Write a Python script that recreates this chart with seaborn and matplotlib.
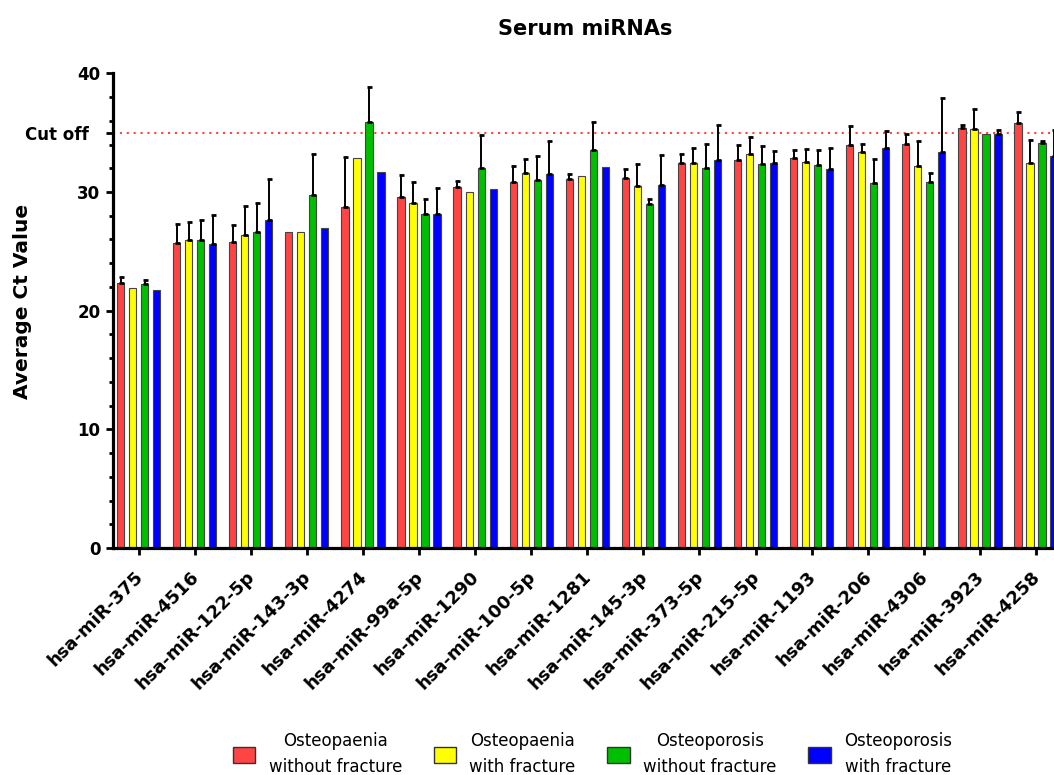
import numpy as np
import pandas as pd
import matplotlib
matplotlib.use('Agg')
import matplotlib.pyplot as plt
import matplotlib.transforms as mtransforms
import seaborn as sns
from matplotlib.patches import Patch
from matplotlib.ticker import MultipleLocator

mirnas = ['hsa-miR-375', 'hsa-miR-4516', 'hsa-miR-122-5p', 'hsa-miR-143-3p',
          'hsa-miR-4274', 'hsa-miR-99a-5p', 'hsa-miR-1290', 'hsa-miR-100-5p',
          'hsa-miR-1281', 'hsa-miR-145-3p', 'hsa-miR-373-5p', 'hsa-miR-215-5p',
          'hsa-miR-1193', 'hsa-miR-206', 'hsa-miR-4306', 'hsa-miR-3923',
          'hsa-miR-4258']
groups = ['Osteopaenia\nwithout fracture', 'Osteopaenia\nwith fracture',
          'Osteoporosis\nwithout fracture', 'Osteoporosis\nwith fracture']
colors = ['#FF4444', '#FFFF00', '#00BF00', '#0000FF']

# mean Ct values
penia_nofx = [22.29, 25.69, 25.77, 26.67, 28.70, 29.57, 30.38, 30.86, 31.08,
              31.17, 32.46, 32.69, 32.83, 33.95, 34.06, 35.36, 35.78]
penia_fx = [21.87, 25.97, 26.39, 26.59, 32.85, 29.06, 30.04, 31.56, 31.37,
            30.47, 32.46, 33.19, 32.55, 33.33, 32.15, 35.27, 32.47]
porosis_nofx = [22.26, 25.97, 26.59, 29.76, 35.86, 28.16, 31.98, 30.97, 33.50,
                28.98, 31.98, 32.35, 32.24, 30.75, 30.83, 34.87, 34.17]
porosis_fx = [21.70, 25.60, 27.60, 26.98, 31.65, 28.16, 30.27, 31.48, 32.07,
              30.58, 32.69, 32.46, 31.96, 33.67, 33.33, 34.86, 33.06]

# upper error (SD)
err_penia_nofx = [0.56, 1.63, 1.41, 0.0, 4.24, 1.85, 0.54, 1.35, 0.45,
                  0.79, 0.76, 1.29, 0.73, 1.57, 0.85, 0.28, 0.96]
err_penia_fx = [0.0, 1.46, 2.39, 0.0, 0.0, 1.77, 0.0, 1.24, 0.0,
                1.85, 1.27, 1.44, 1.09, 0.68, 2.17, 1.72, 1.87]
err_porosis_nofx = [0.34, 1.69, 2.44, 3.46, 2.98, 1.27, 2.84, 2.08, 2.42,
                    0.45, 2.06, 1.49, 1.29, 2.05, 0.79, 0.0, 0.14]
err_porosis_fx = [0.0, 2.45, 3.46, 0.0, 0.0, 2.17, 0.0, 2.84, 0.0,
                  2.50, 2.92, 0.96, 1.74, 1.43, 4.56, 0.34, 2.13]

cutoff = 35
yticks = [0, 10, 20, 30, 35, 40]
yticklabels = ['0', '10', '20', '30', 'Cut off', '40']

means = [penia_nofx, penia_fx, porosis_nofx, porosis_fx]
errs = [err_penia_nofx, err_penia_fx, err_porosis_nofx, err_porosis_fx]

rows = []
for g, vals in zip(groups, means):
    for m, v in zip(mirnas, vals):
        rows.append({'miRNA': m, 'group': g, 'ct': v})
df = pd.DataFrame(rows)

sns.set_style('ticks')
plt.rcParams['font.family'] = ['DejaVu Sans']
plt.rcParams['text.color'] = 'black'
plt.rcParams['axes.labelcolor'] = 'black'
plt.rcParams['xtick.color'] = 'black'
plt.rcParams['ytick.color'] = 'black'

fig = plt.figure(figsize=(10.54, 7.75), dpi=100)
ax = fig.add_axes([0.107, 0.2929, 0.893, 0.6125])

sns.barplot(data=df, x='miRNA', y='ct', hue='group', order=mirnas,
            hue_order=groups, palette=colors, saturation=1, width=0.857,
            gap=0.4, edgecolor='#444444', linewidth=0.8, errorbar=None,
            legend=False, ax=ax)

bar_conts = list(ax.containers)
for j, cont in enumerate(bar_conts):
    for bar, e in zip(cont, errs[j]):
        if e > 0:
            x = bar.get_x() + bar.get_width() / 2
            ax.errorbar(x, bar.get_height(), yerr=[[0], [e]], fmt='none',
                        ecolor='black', elinewidth=1.4, capsize=1.8,
                        capthick=2.0, zorder=1)

ax.axhline(cutoff, color='#FF4444', ls=(0, (1, 2.3)), lw=1.5, zorder=0.5)

ax.set_ylim(0, 40)
ax.set_xlim(-0.46, 16.32)
ax.set_yticks(yticks)
ax.set_yticklabels(yticklabels)
ax.yaxis.set_minor_locator(MultipleLocator(2))

for side in ['top', 'right']:
    ax.spines[side].set_visible(False)
for side in ['left', 'bottom']:
    ax.spines[side].set_linewidth(2.3)
    ax.spines[side].set_color('black')

ax.tick_params(axis='y', which='major', length=5, width=2, pad=4,
               labelsize=12, colors='black')
ax.tick_params(axis='y', which='minor', length=3, width=2)
ax.tick_params(axis='x', which='major', length=5, width=2, pad=9,
               labelsize=13)
for lab in ax.get_yticklabels():
    lab.set_fontweight('bold')
    if lab.get_text() == 'Cut off':
        lab.set_transform(lab.get_transform() + mtransforms.ScaledTranslation(
            -0.12, 0, fig.dpi_scale_trans))
for lab in ax.get_xticklabels():
    lab.set_fontweight('bold')
    lab.set_rotation(45)
    lab.set_ha('right')
    lab.set_va('top')
    lab.set_rotation_mode('anchor')
    lab.set_transform(lab.get_transform() + mtransforms.ScaledTranslation(
        -0.05, 0, fig.dpi_scale_trans))

ax.set_xlabel('')
ax.set_ylabel('Average Ct Value', fontsize=14.5, fontweight='bold')
ax.yaxis.set_label_coords(-0.086, 0.52)

fig.text(0.555, 0.963, 'Serum miRNAs', ha='center', va='center',
         fontsize=15, fontweight='bold')

handles = [Patch(facecolor=c, edgecolor='#333333', linewidth=1.0) for c in colors]
leg = fig.legend(handles, groups, loc='lower center', ncol=4,
                 bbox_to_anchor=(0.562, -0.02), frameon=False, fontsize=12,
                 handlelength=1.35, handleheight=1.1, handletextpad=0.8,
                 columnspacing=1.9)
for t in leg.get_texts():
    t.set_multialignment('center')
    t.set_linespacing(1.55)

fig.savefig('out.png', dpi=100)
